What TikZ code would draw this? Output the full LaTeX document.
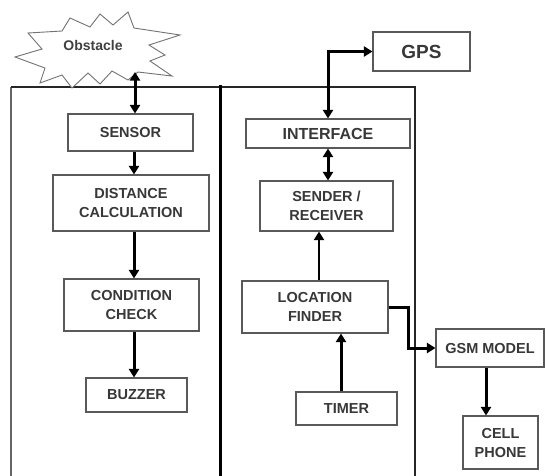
\documentclass[tikz,border=0pt]{standalone}
\usepackage{fontspec}
\setmainfont{Liberation Sans}
\usetikzlibrary{arrows.meta}
\tikzset{
  blk/.style={draw=black!65, line width=1.1pt, fill=white, align=center, inner sep=0pt,
    text=black!78, font=\bfseries\fontsize{14.5}{19}\selectfont},
  conn/.style={line width=3pt, -{Triangle[length=8.5pt,width=10pt]}},
  bconn/.style={line width=3pt, {Triangle[length=8.5pt,width=10pt]}-{Triangle[length=8.5pt,width=10pt]}},
  frame/.style={line width=1.2pt, draw=black!85}
}
\begin{document}
\begin{tikzpicture}[x=1pt,y=-1pt]
\useasboundingbox (0,0) rectangle (545,475);
\fill[white] (0,0) rectangle (545,475);

% frame
\draw[frame, draw=black!60] (11,476) -- (11,87);
\draw[frame] (11,87) -- (415,87) -- (415,476);
\draw[line width=3.6pt] (220.5,85) -- (220.5,476);

% obstacle starburst
\draw[black!55, line width=0.9pt, fill=white]
  (15,57) -- (42,49) -- (28,33) -- (62,31) -- (70,18) -- (90,27) -- (100,14)
  -- (113,25) -- (128,12) -- (134,28) -- (180,35) -- (149,45) -- (165,55)
  -- (150,61) -- (172,76) -- (138,72) -- (128,80) -- (112,71) -- (100,84)
  -- (88,73) -- (72,88) -- (62,75) -- (40,83) -- (45,68) -- cycle;
\node[text=black!75, font=\bfseries\fontsize{14}{16}\selectfont] (obstacle) at (93,45) {Obstacle};
\coordinate (obstip) at (135,72);

% left panel
\node[blk, minimum width=125pt, minimum height=37pt] (sensor) at (130.5,132.5) {SENSOR};
\node[blk, minimum width=156pt, minimum height=56pt] (dist) at (131,203) {DISTANCE\\CALCULATION};
\node[blk, minimum width=135pt, minimum height=52pt] (cond) at (131.5,305) {CONDITION\\CHECK};
\node[blk, minimum width=101pt, minimum height=34pt] (buzzer) at (136.5,395) {BUZZER};
\coordinate (colL) at (134,0);

% right panel
\node[blk, minimum width=97pt, minimum height=39pt, font=\bfseries\fontsize{19}{21}\selectfont] (gps) at (421.5,51.5) {GPS};
\node[blk, minimum width=164pt, minimum height=29pt, font=\bfseries\fontsize{16}{19}\selectfont] (interface) at (328,133.5) {INTERFACE};
\node[blk, minimum width=133pt, minimum height=50pt] (sender) at (326.5,206) {SENDER /\\RECEIVER};
\node[blk, minimum width=146pt, minimum height=52pt] (location) at (315,307) {LOCATION\\FINDER};
\node[blk, minimum width=101pt, minimum height=33pt] (timer) at (346.5,408.5) {TIMER};
\node[blk, minimum width=108pt, minimum height=38pt] (gsm) at (490,348) {GSM MODEL};
\node[blk, minimum width=75pt, minimum height=53pt] (cell) at (500.5,442.5) {CELL\\PHONE};
\coordinate (colLS) at (319,0);
\coordinate (colTL) at (341,0);
\coordinate (colGC) at (486,0);

% connectors
\draw[bconn] (obstip) -- (sensor.north -| obstip);
\draw[conn] (sensor.south -| colL) -- (dist.north -| colL);
\draw[conn] (dist.south -| colL) -- (cond.north -| colL);
\draw[conn] (cond.south -| colL) -- (buzzer.north -| colL);

\draw[bconn] (interface.north) |- (gps.west);
\draw[bconn] (interface.south) -- (interface.south |- sender.north);
\draw[conn, line width=2.2pt] (location.north -| colLS) -- (sender.south -| colLS);
\draw[conn] (timer.north -| colTL) -- (location.south -| colTL);
\draw[conn] (location.east) -- ++(20,0) |- (gsm.west);
\draw[conn] (gsm.south -| colGC) -- (cell.north -| colGC);
\end{tikzpicture}
\end{document}
